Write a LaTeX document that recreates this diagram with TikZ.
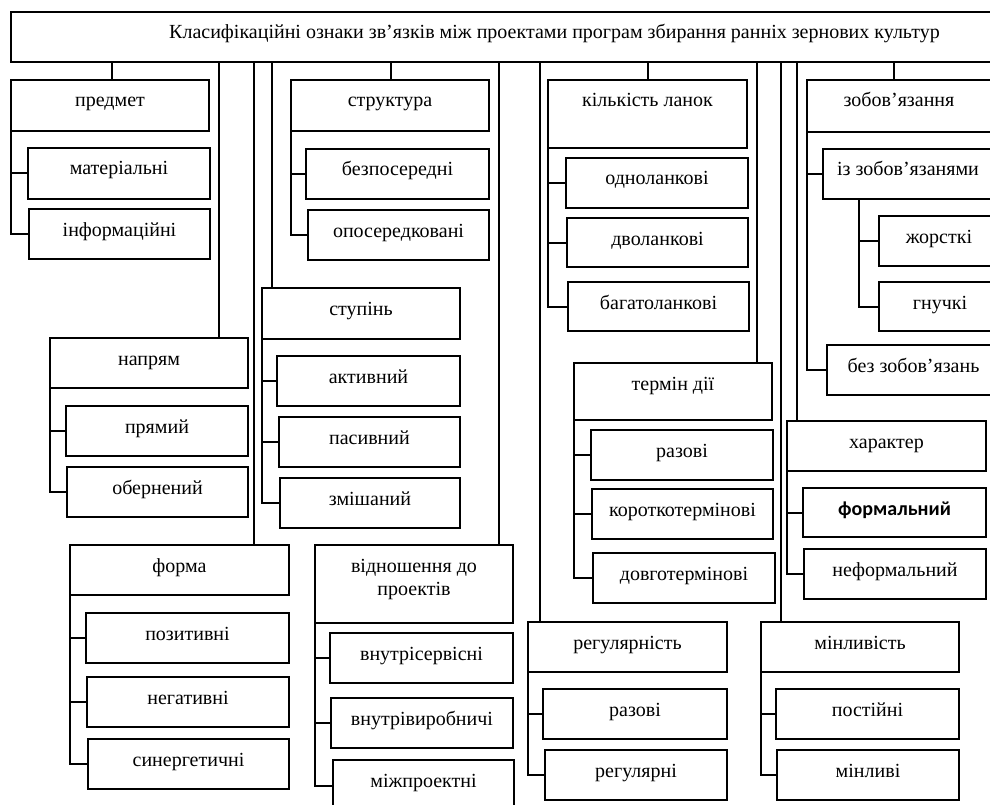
\documentclass[tikz,border=0pt]{standalone}
\usepackage{fontspec}
\setmainfont{Liberation Serif}
\newfontfamily\calfont{Carlito}
\tikzset{
  box/.style={draw, line width=2pt, inner sep=0pt, outer sep=0pt, fill=white},
  lbl/.style={anchor=base, inner sep=0pt, font=\fontsize{20}{24}\selectfont},
  ln/.style={line width=2pt},
}
\newcommand{\bx}[6]{%
  \node[box, anchor=north west, minimum width={#4-#2}, minimum height={#5-#3}] (#1) at (#2,#3) {};
  \node[lbl] (#1t) at ([yshift=-27pt]#1.north) {#6};}
\begin{document}
\begin{tikzpicture}[x=1pt,y=-1pt]
\useasboundingbox (0,0) rectangle (990,805);
\clip (0,0) rectangle (990,805);
% top
\node[box, anchor=north west, minimum width={1000-11}, minimum height=50] (top) at (11,12) {};
\node[lbl] (topt) at (554.5,39) {Класифікаційні ознаки зв’язків між проектами програм збирання ранніх зернових культур};
% boxes
\bx{P}{11}{80}{209}{131}{предмет}
\bx{P1}{28}{148}{210}{199}{матеріальні}
\bx{P2}{29}{209}{210}{259}{інформаційні}
\bx{N}{50}{338}{248}{388}{напрям}
\bx{N1}{66}{406}{248}{456}{прямий}
\bx{N2}{67}{467}{248}{517}{обернений}
\bx{F}{70}{545}{289}{595}{форма}
\bx{F1}{86}{613}{289}{663}{позитивні}
\bx{F2}{87}{677}{289}{727}{негативні}
\bx{F3}{88}{739}{289}{789}{синергетичні}
\bx{S}{291}{80}{489}{131}{структура}
\bx{S1}{306}{149}{489}{199}{безпосередні}
\bx{S2}{308}{210}{489}{260}{опосередковані}
\bx{St}{262}{288}{460}{339}{ступінь}
\bx{St1}{277}{356}{460}{406}{активний}
\bx{St2}{279}{417}{460}{467}{пасивний}
\bx{St3}{280}{478}{460}{528}{змішаний}
\bx{V}{315}{545}{513}{623}{відношення до}
\node[lbl] (Vt2) at ([yshift=-50pt]V.north) {проектів};
\bx{V1}{330}{633}{513}{683}{внутрісервісні}
\bx{V2}{331}{698}{513}{748}{внутрівиробничі}
\bx{V3}{333}{760}{514}{812}{міжпроектні}
\bx{K}{548}{80}{747}{148}{кількість ланок}
\bx{K1}{566}{158}{748}{208}{одноланкові}
\bx{K2}{567}{218}{748}{267}{дволанкові}
\bx{K3}{568}{282}{749}{331}{багатоланкові}
\bx{T}{574}{363}{772}{420}{термін дії}
\bx{T1}{591}{430}{773}{480}{разові}
\bx{T2}{592}{489}{773}{539}{короткотермінові}
\bx{T3}{593}{553}{775}{603}{довготермінові}
\bx{R}{528}{622}{727}{672}{регулярність}
\bx{R1}{543}{689}{727}{739}{разові}
\bx{R2}{545}{750}{727}{800}{регулярні}
\bx{Z}{807}{80}{991}{132}{зобов’язання}
\bx{Z1}{823}{149}{993}{199}{із зобов’язанями}
\bx{Z11}{879}{216}{999}{266}{жорсткі}
\bx{Z12}{879}{282}{1001}{331}{гнучкі}
\bx{Z2}{827}{345}{1000}{395}{без зобов’язань}
\bx{H}{787}{421}{986}{471}{характер}
\bx{H1}{803}{488}{986}{537}{\calfont\bfseries формальний}
\bx{H2}{804}{549}{986}{599}{неформальний}
\bx{M}{761}{622}{959}{672}{мінливість}
\bx{M1}{776}{689}{959}{739}{постійні}
\bx{M2}{777}{750}{959}{800}{мінливі}
% connectors from top
\foreach \n/\dx in {P/101,N/169,F/184,S/100,St/10,V/184,K/100,T/183,R/12,Z/87,H/10,M/20}{
  \draw[ln] ([xshift=\dx pt]\n.north west) -- ([xshift=\dx pt]\n.north west |- top.south);
}
% branches
\draw[ln] (P.south west) |- (P2.west); \draw[ln] (P.south west |- P1.west) -- (P1.west);
\draw[ln] (N.south west) |- (N2.west); \draw[ln] (N.south west |- N1.west) -- (N1.west);
\draw[ln] (F.south west) |- (F3.west); \draw[ln] (F.south west |- F1.west) -- (F1.west);
\draw[ln] (F.south west |- F2.west) -- (F2.west);
\draw[ln] (S.south west) |- (S2.west); \draw[ln] (S.south west |- S1.west) -- (S1.west);
\draw[ln] (St.south west) |- (St3.west); \draw[ln] (St.south west |- St1.west) -- (St1.west);
\draw[ln] (St.south west |- St2.west) -- (St2.west);
\draw[ln] (V.south west) |- (V3.west); \draw[ln] (V.south west |- V1.west) -- (V1.west);
\draw[ln] (V.south west |- V2.west) -- (V2.west);
\draw[ln] (K.south west) |- (K3.west); \draw[ln] (K.south west |- K1.west) -- (K1.west);
\draw[ln] (K.south west |- K2.west) -- (K2.west);
\draw[ln] (T.south west) |- (T3.west); \draw[ln] (T.south west |- T1.west) -- (T1.west);
\draw[ln] (T.south west |- T2.west) -- (T2.west);
\draw[ln] (R.south west) |- (R2.west); \draw[ln] (R.south west |- R1.west) -- (R1.west);
\draw[ln] (Z.south west) |- (Z2.west); \draw[ln] (Z.south west |- Z1.west) -- (Z1.west);
\draw[ln] ([xshift=36pt]Z1.south west) |- (Z12.west); \draw[ln] ([xshift=36pt]Z1.south west |- Z11.west) -- (Z11.west);
\draw[ln] (H.south west) |- (H2.west); \draw[ln] (H.south west |- H1.west) -- (H1.west);
\draw[ln] (M.south west) |- (M2.west); \draw[ln] (M.south west |- M1.west) -- (M1.west);
\end{tikzpicture}
\end{document}
